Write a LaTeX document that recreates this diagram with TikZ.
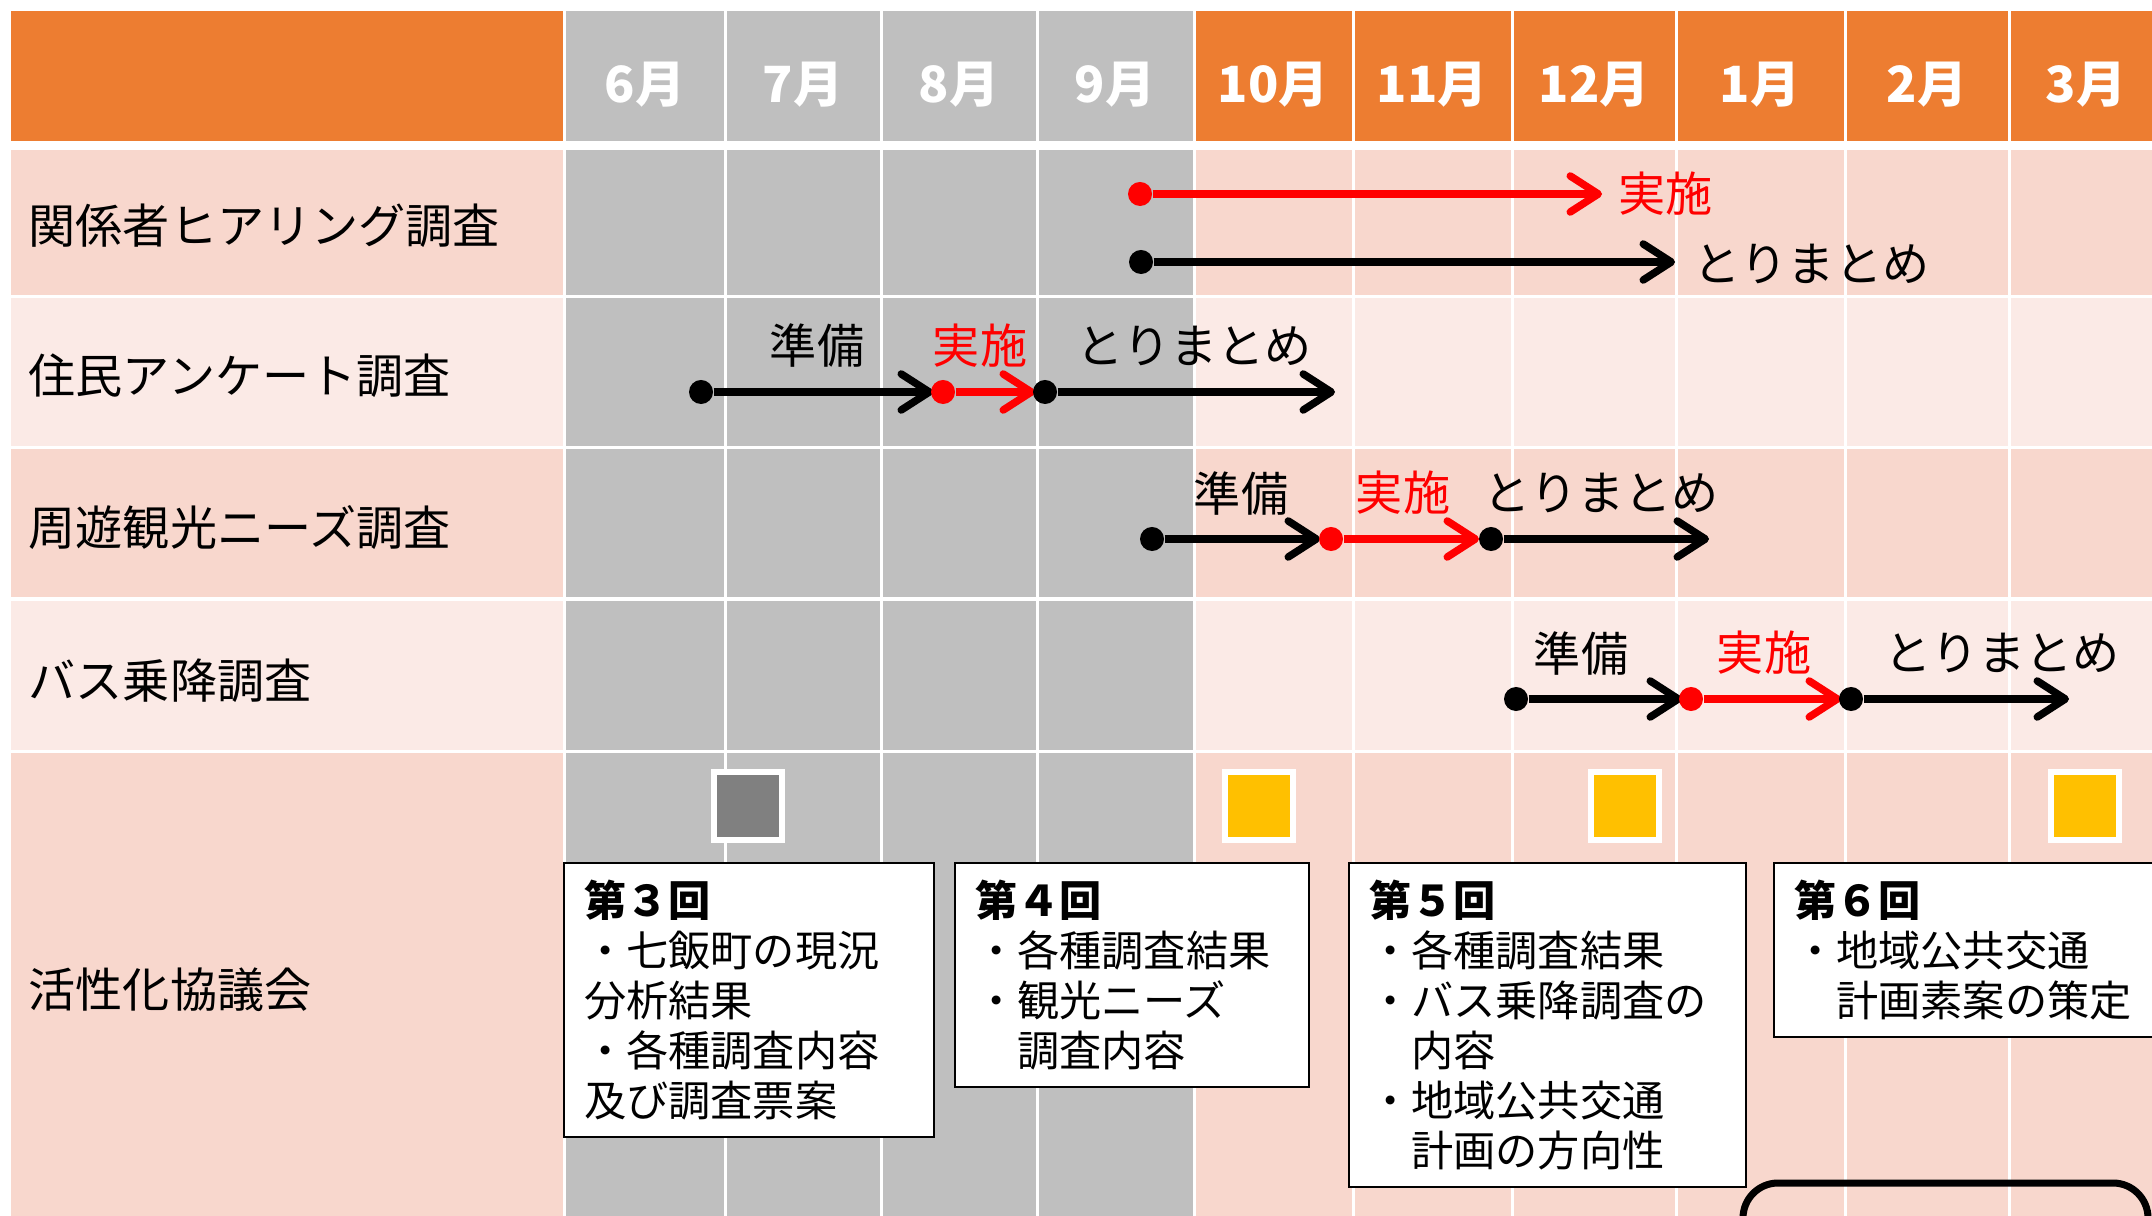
\documentclass[tikz,border=0pt]{standalone}
\usepackage{fontspec}
\setmainfont{Noto Sans CJK JP}
\usetikzlibrary{arrows.meta}
\definecolor{headorange}{HTML}{ED7D31}
\definecolor{pastgray}{HTML}{BFBFBF}
\definecolor{rowdark}{HTML}{F8D7CD}
\definecolor{rowlight}{HTML}{FBEAE6}
\definecolor{meetyellow}{HTML}{FFC000}
\definecolor{meetgray}{HTML}{808080}
\tikzset{
  month/.style={text=white, inner sep=0pt, font=\fontsize{14.2}{16}\selectfont\bfseries},
  task/.style={anchor=west, inner sep=0pt, font=\fontsize{13.4}{16}\selectfont},
  phase/.style={inner sep=0pt, font=\fontsize{13.4}{16}\selectfont},
  flow/.style={line width=0.075cm, ->},
  startdot/.style={circle, fill, inner sep=0pt, minimum size=0.24cm},
  meeting/.style={draw=white, line width=0.06cm, minimum size=0.68cm, inner sep=0pt},
  memo/.style={draw, fill=white, line width=0.02cm, anchor=north west, align=left,
    inner xsep=0.2cm, inner ysep=0.17cm, font=\fontsize{12}{14.2}\selectfont},
  grid line/.style={white, line width=0.03cm}
}
\begin{document}
\begin{tikzpicture}[x=0.01cm, y=-0.01cm, >={Straight Barb[length=0.28cm, width=0.36cm, round]}]
  \useasboundingbox (0,0) rectangle (2152,1216);
  \clip (0,0) rectangle (2152,1216);

  \fill[rowdark] (11,150) rectangle (2152,297);
  \fill[rowlight] (11,297) rectangle (2152,448);
  \fill[rowdark] (11,448) rectangle (2152,599);
  \fill[rowlight] (11,599) rectangle (2152,751);
  \fill[rowdark] (11,751) rectangle (2152,1216);
  \fill[pastgray] (564,11) rectangle (1194,1216);
  \fill[headorange] (11,11) rectangle (564,141);
  \fill[headorange] (1194,11) rectangle (2152,141);
  \foreach \x in {564,725,881,1037,1194,1353,1512,1676,1845,2009}
    \draw[grid line] (\x,11) -- (\x,1216);
  \foreach \y in {297,448,599,751}
    \draw[grid line] (11,\y) -- (2152,\y);
  \fill[white] (11,141) rectangle (2152,150);

  \foreach \m/\x [count=\i] in {6/645,7/803,8/959,9/1115,10/1273,11/1432,12/1594,1/1760,2/1927,3/2086}
    \node[month] (m\i) at (\x,85) {\m 月};

  \node[task] (t1) at (28,226) {関係者ヒアリング調査};
  \node[task] (t2) at (28,376) {住民アンケート調査};
  \node[task] (t3) at (28,528) {周遊観光ニーズ調査};
  \node[task] (t4) at (28,681) {バス乗降調査};
  \node[task] (t5) at (28,990) {活性化協議会};

  \coordinate (e11) at (1602,194);
  \coordinate (e12) at (1675,262);
  \node[startdot, red] (s11) at (1140,194) {};
  \node[startdot] (s12) at (1141,262) {};
  \draw[flow, red] (s11) -- (e11);
  \draw[flow] (s12) -- (e12);
  \node[phase, red, anchor=west] (p11) at (1618,194) {実施};
  \node[phase, anchor=west] (p12) at (1693,264) {とりまとめ};

  \coordinate (e21) at (933,392);
  \coordinate (e22) at (1035,392);
  \coordinate (e23) at (1335,392);
  \node[startdot] (s21) at (701,392) {};
  \draw[flow] (s21) -- (e21);
  \node[startdot, red] (s22) at (943,392) {};
  \draw[flow, red] (s22) -- (e22);
  \node[startdot] (s23) at (1045,392) {};
  \draw[flow] (s23) -- (e23);
  \node[phase] (p21) at (817,346) {準備};
  \node[phase, red] (p22) at (980,346) {実施};
  \node[phase] (p23) at (1194,346) {とりまとめ};

  \coordinate (e31) at (1320,539);
  \coordinate (e32) at (1479,539);
  \coordinate (e33) at (1709,539);
  \node[startdot] (s31) at (1152,539) {};
  \draw[flow] (s31) -- (e31);
  \node[startdot, red] (s32) at (1331,539) {};
  \draw[flow, red] (s32) -- (e32);
  \node[startdot] (s33) at (1491,539) {};
  \draw[flow] (s33) -- (e33);
  \node[phase] (p31) at (1241,493) {準備};
  \node[phase, red] (p32) at (1403,493) {実施};
  \node[phase] (p33) at (1601,493) {とりまとめ};

  \coordinate (e41) at (1682,699);
  \coordinate (e42) at (1841,699);
  \coordinate (e43) at (2069,699);
  \node[startdot] (s41) at (1516,699) {};
  \draw[flow] (s41) -- (e41);
  \node[startdot, red] (s42) at (1691,699) {};
  \draw[flow, red] (s42) -- (e42);
  \node[startdot] (s43) at (1851,699) {};
  \draw[flow] (s43) -- (e43);
  \node[phase] (p41) at (1581,653) {準備};
  \node[phase, red] (p42) at (1764,653) {実施};
  \node[phase] (p43) at (2002,653) {とりまとめ};

  \node[meeting, fill=meetgray] (q3) at (748,806) {};
  \node[meeting, fill=meetyellow] (q4) at (1259,806) {};
  \node[meeting, fill=meetyellow] (q5) at (1625,806) {};
  \node[meeting, fill=meetyellow] (q6) at (2085,806) {};

  \node[memo, text width=3.3cm] (b3) at (563,862)
    {\textbf{第３回}\\・七飯町の現況\\分析結果\\・各種調査内容\\及び調査票案};
  \node[memo, text width=3.14cm] (b4) at (954,862)
    {\textbf{第４回}\\・各種調査結果\\・観光ニーズ\\　調査内容};
  \node[memo, text width=3.57cm] (b5) at (1348,862)
    {\textbf{第５回}\\・各種調査結果\\・バス乗降調査の\\　内容\\・地域公共交通\\　計画の方向性};
  \node[memo, text width=3.9cm] (b6) at (1773,862)
    {\textbf{第６回}\\・地域公共交通\\　計画素案の策定};

  \draw[line width=0.07cm, rounded corners=0.35cm] (1743,1300) rectangle (2148,1183);
\end{tikzpicture}
\end{document}
